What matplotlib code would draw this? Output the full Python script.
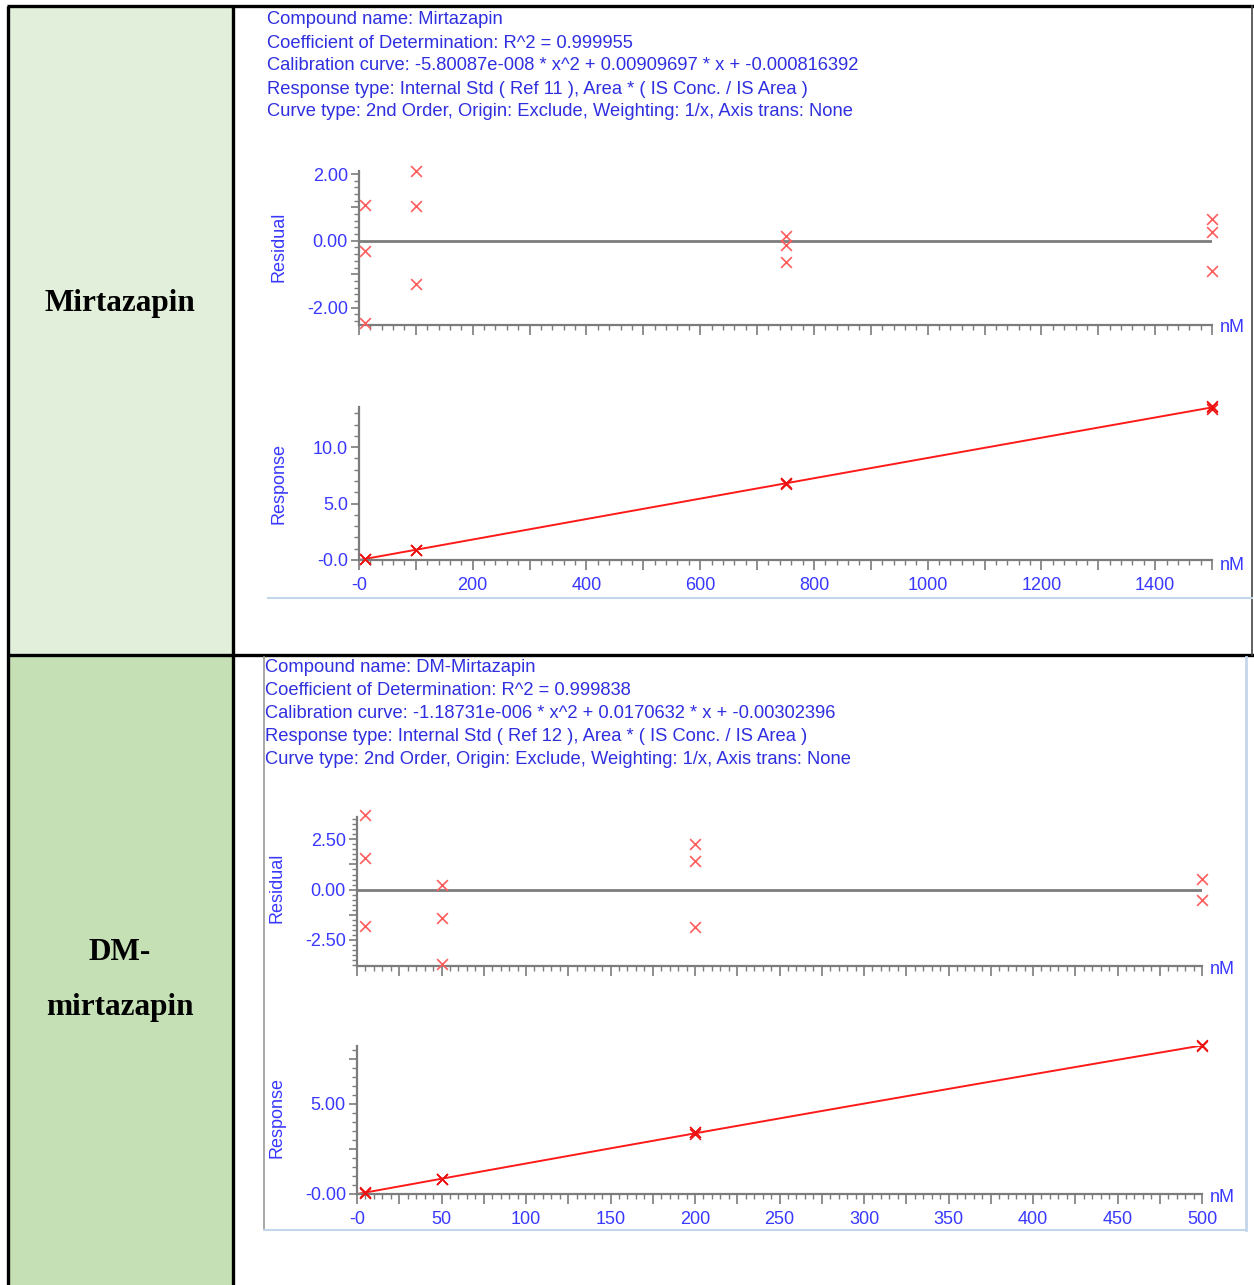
import numpy as np
import matplotlib
matplotlib.use('Agg')
import matplotlib.pyplot as plt
from matplotlib.patches import Rectangle
from matplotlib.ticker import MultipleLocator

plt.rcParams['font.family'] = ['Liberation Sans', 'DejaVu Sans']

W, H = 1254, 1285

# Mirtazapin: concentration (nM), residual (%), response
conc_m = [10, 10, 10, 100, 100, 100, 750, 750, 750, 1500, 1500, 1500]
resid_m = [1.07, -0.30, -2.47, 2.09, 1.03, -1.30, 0.14, -0.12, -0.62, 0.66, 0.26, -0.90]
resp_m = [0.09, 0.09, 0.09, 0.92, 0.91, 0.90, 6.80, 6.79, 6.75, 13.60, 13.55, 13.40]
coef_m = [-5.80087e-008, 0.00909697, -0.000816392]

# DM-mirtazapin
conc_d = [5, 5, 5, 50, 50, 50, 200, 200, 200, 500, 500]
resid_d = [3.70, 1.59, -1.81, 0.21, -1.39, -3.72, 2.29, 1.41, -1.86, 0.55, -0.50]
resp_d = [0.085, 0.083, 0.081, 0.849, 0.835, 0.815, 3.44, 3.41, 3.30, 8.28, 8.19]
coef_d = [-1.18731e-006, 0.0170632, -0.00302396]

header_m = ["Compound name: Mirtazapin",
            "Coefficient of Determination: R^2 = 0.999955",
            "Calibration curve: -5.80087e-008 * x^2 + 0.00909697 * x + -0.000816392",
            "Response type: Internal Std ( Ref 11 ), Area * ( IS Conc. / IS Area )",
            "Curve type: 2nd Order, Origin: Exclude, Weighting: 1/x, Axis trans: None"]
header_d = ["Compound name: DM-Mirtazapin",
            "Coefficient of Determination: R^2 = 0.999838",
            "Calibration curve: -1.18731e-006 * x^2 + 0.0170632 * x + -0.00302396",
            "Response type: Internal Std ( Ref 12 ), Area * ( IS Conc. / IS Area )",
            "Curve type: 2nd Order, Origin: Exclude, Weighting: 1/x, Axis trans: None"]

BLUE = '#2f2fe0'
TICK_BLUE = '#3838ff'
GRAY = '#7c7c7c'

fig = plt.figure(figsize=(W / 100, H / 100), dpi=100)
bg = fig.add_axes([0, 0, 1, 1])
bg.set_xlim(0, W)
bg.set_ylim(H, 0)
bg.axis('off')

# table cells and borders
bg.add_patch(Rectangle((8, 7), 225, 648, color='#e2efda', zorder=0))
bg.add_patch(Rectangle((8, 655), 225, 640, color='#c5e0b4', zorder=0))
kw = dict(color='black', lw=2.4, solid_capstyle='butt')
bg.plot([7, 1254], [6, 6], **kw)
bg.plot([7, 1254], [655, 655], **kw)
bg.plot([8, 8], [6, 1285], **kw)
bg.plot([233, 233], [6, 1285], **kw)
bg.plot([1252, 1252], [6, 655], color='#444444', lw=1.2)

# software panel frames
bg.plot([268, 1252], [598, 598], color='#c4d6ea', lw=1.5)
bg.plot([264, 264], [657, 1230], color='#9a9a9a', lw=1.2)
bg.plot([264, 1246], [1230, 1230], color='#c4d6ea', lw=1.5)
bg.plot([1246, 1246], [657, 1230], color='#c4d6ea', lw=2)

bg.text(120, 304, 'Mirtazapin', family='Liberation Serif', fontweight='bold',
        fontsize=22.5, ha='center', va='center')
bg.text(120, 953, 'DM-', family='Liberation Serif', fontweight='bold',
        fontsize=22.5, ha='center', va='center')
bg.text(120, 1008, 'mirtazapin', family='Liberation Serif', fontweight='bold',
        fontsize=22.5, ha='center', va='center')

for i, line in enumerate(header_m):
    bg.text(267, 20 + i * 23, line, color=BLUE, fontsize=13.2, va='center')
for i, line in enumerate(header_d):
    bg.text(265, 668 + i * 22.8, line, color=BLUE, fontsize=13.2, va='center')


def px_axes(left, top, right, bottom):
    return fig.add_axes([left / W, 1 - bottom / H, (right - left) / W, (bottom - top) / H])


def style(ax):
    ax.patch.set_alpha(0)
    for s in ('top', 'right'):
        ax.spines[s].set_visible(False)
    for s in ('left', 'bottom'):
        ax.spines[s].set_color(GRAY)
        ax.spines[s].set_linewidth(1.6)
    ax.tick_params(which='both', direction='out', color=GRAY,
                   labelcolor=TICK_BLUE, labelsize=13, pad=2)
    ax.tick_params(which='major', length=6, width=1.2)
    ax.tick_params(which='minor', length=3.5, width=1.0)
    ax.tick_params(axis='x', which='major', length=7, pad=5)


def residual_panel(box, conc, resid, xmax, ylim, yt, ylab, yminor, xmajor, xminor):
    ax = px_axes(*box)
    style(ax)
    ax.axhline(0, color=GRAY, lw=2, zorder=2)
    ax.scatter(conc, resid, marker='x', color='#ff5c5c', s=60, lw=1.2,
               clip_on=False, zorder=3)
    ax.set_xlim(0, xmax)
    ax.set_ylim(*ylim)
    ax.set_yticks(yt, ylab)
    ax.yaxis.set_minor_locator(MultipleLocator(yminor))
    ax.xaxis.set_major_locator(MultipleLocator(xmajor))
    ax.xaxis.set_minor_locator(MultipleLocator(xminor))
    ax.tick_params(axis='x', labelbottom=False)
    return ax


def response_panel(box, conc, resp, coef, xmax, ylim, yt, ylab, yminor, xmajor, xlabstep, xminor):
    ax = px_axes(*box)
    style(ax)
    xs = np.linspace(0, xmax, 200)
    ax.plot(xs, np.polyval(coef, xs), color='#ff1a1a', lw=1.4, zorder=2)
    ax.scatter(conc, resp, marker='x', color='#ee1111', s=60, lw=1.1,
               clip_on=False, zorder=3)
    ax.set_xlim(0, xmax)
    ax.set_ylim(*ylim)
    ax.set_yticks(yt, ylab)
    ax.yaxis.set_minor_locator(MultipleLocator(yminor))
    xt = np.arange(0, xmax + 1, xmajor)
    xl = []
    for v in xt:
        if v == 0:
            xl.append('-0')
        elif v % xlabstep == 0 and v < xmax or (v == xmax and xmax == 500):
            xl.append(str(int(v)))
        else:
            xl.append('')
    ax.set_xticks(xt, xl)
    ax.xaxis.set_minor_locator(MultipleLocator(xminor))
    return ax


# Mirtazapin
residual_panel((359, 171, 1212, 325), conc_m, resid_m, 1500, (-2.52, 2.09),
               [-2, -1, 0, 1, 2], ['-2.00', '', '0.00', '', '2.00'], 0.2, 100, 20)
response_panel((359, 407, 1212, 560), conc_m, resp_m, coef_m, 1500, (0, 13.55),
               [0, 5, 10], ['-0.0', '5.0', '10.0'], 1.0, 100, 200, 20)

# DM-mirtazapin
residual_panel((357, 817, 1202, 966), conc_d, resid_d, 500, (-3.80, 3.61),
               [-2.5, -1.25, 0, 1.25, 2.5], ['-2.50', '', '0.00', '', '2.50'], 0.25, 25, 5)
response_panel((357, 1046, 1202, 1194), conc_d, resp_d, coef_d, 500, (0, 8.2),
               [0, 2.5, 5, 7.5], ['-0.00', '', '5.00', ''], 0.5, 25, 50, 5)

# axis captions
for x, y, t in [(279, 247, 'Residual'), (279, 483, 'Response'),
                (277, 888, 'Residual'), (277, 1118, 'Response')]:
    bg.text(x, y, t, color=TICK_BLUE, fontsize=13, rotation=90,
            ha='center', va='center')
for x, y in [(1232, 328), (1232, 565), (1222, 969), (1222, 1198)]:
    bg.text(x, y, 'nM', color=TICK_BLUE, fontsize=13, ha='center', va='center')

fig.savefig('out.png', dpi=100)
